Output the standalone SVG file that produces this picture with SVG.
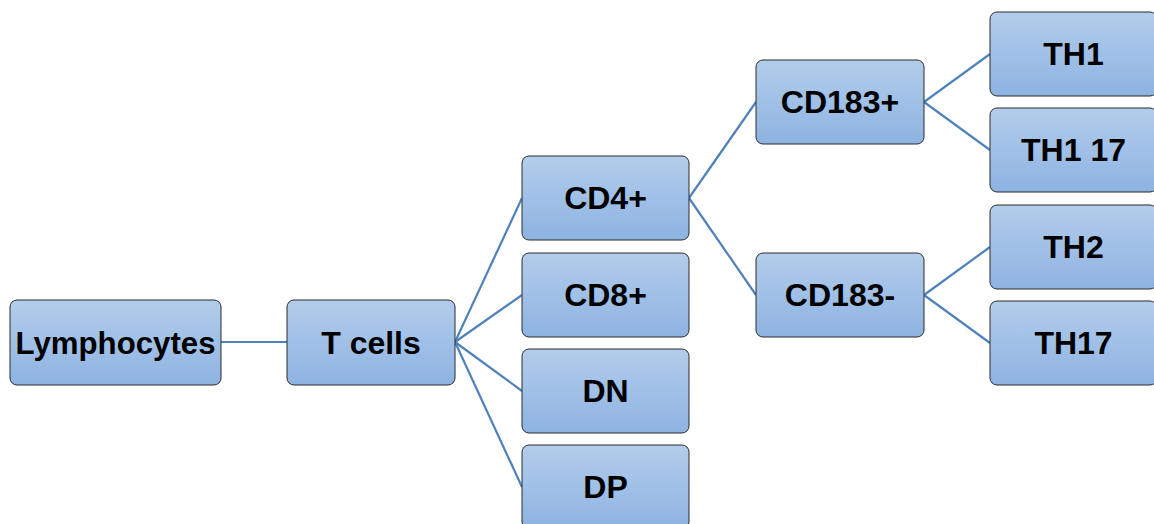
<svg xmlns="http://www.w3.org/2000/svg" width="1154" height="524" viewBox="0 0 1154 524">
<defs>
<linearGradient id="g" x1="0" y1="0" x2="0" y2="1">
<stop offset="0" stop-color="#b3cdeb"/>
<stop offset="1" stop-color="#8db3e2"/>
</linearGradient>
<style>
.box{fill:url(#g);stroke:#2b2b2b;stroke-width:1}
.t{font-family:"Liberation Sans",Arial,sans-serif;font-weight:bold;font-size:32px;fill:#000;text-anchor:middle}
.c{stroke:#4f81bd;stroke-width:2.2;fill:none}
</style>
</defs>
<rect width="1154" height="524" fill="#fff"/>
<g id="connectors">
<line class="c" x1="221" y1="342" x2="287" y2="342"/>
<line class="c" x1="455" y1="342" x2="522" y2="198"/>
<line class="c" x1="455" y1="342" x2="522" y2="295"/>
<line class="c" x1="455" y1="342" x2="522" y2="391"/>
<line class="c" x1="455" y1="342" x2="522" y2="487"/>
<line class="c" x1="689" y1="198" x2="756" y2="102"/>
<line class="c" x1="689" y1="198" x2="756" y2="295"/>
<line class="c" x1="924" y1="102" x2="990" y2="54"/>
<line class="c" x1="924" y1="102" x2="990" y2="150"/>
<line class="c" x1="924" y1="295" x2="990" y2="247"/>
<line class="c" x1="924" y1="295" x2="990" y2="343"/>
</g>
<g id="lymphocytes"><rect class="box" x="10" y="300" width="211" height="85" rx="7"/><text class="t" x="115.5" y="354" textLength="200" lengthAdjust="spacingAndGlyphs">Lymphocytes</text></g>
<g id="tcells"><rect class="box" x="287" y="300" width="168" height="85" rx="7"/><text class="t" x="371" y="354">T cells</text></g>
<g id="cd4"><rect class="box" x="522" y="156" width="167" height="84" rx="7"/><text class="t" x="605.5" y="209">CD4+</text></g>
<g id="cd8"><rect class="box" x="522" y="253" width="167" height="84" rx="7"/><text class="t" x="605.5" y="306">CD8+</text></g>
<g id="dn"><rect class="box" x="522" y="349" width="167" height="84" rx="7"/><text class="t" x="605.5" y="402">DN</text></g>
<g id="dp"><rect class="box" x="522" y="445" width="167" height="84" rx="7"/><text class="t" x="605.5" y="498">DP</text></g>
<g id="cd183p"><rect class="box" x="756" y="60" width="168" height="84" rx="7"/><text class="t" x="840" y="113">CD183+</text></g>
<g id="cd183m"><rect class="box" x="756" y="253" width="168" height="84" rx="7"/><text class="t" x="840" y="306">CD183-</text></g>
<g id="th1"><rect class="box" x="990" y="12" width="167" height="84" rx="7"/><text class="t" x="1073.5" y="65">TH1</text></g>
<g id="th117"><rect class="box" x="990" y="108" width="167" height="84" rx="7"/><text class="t" x="1073.5" y="161">TH1 17</text></g>
<g id="th2"><rect class="box" x="990" y="205" width="167" height="84" rx="7"/><text class="t" x="1073.5" y="258">TH2</text></g>
<g id="th17"><rect class="box" x="990" y="301" width="167" height="84" rx="7"/><text class="t" x="1073.5" y="354">TH17</text></g>
</svg>
